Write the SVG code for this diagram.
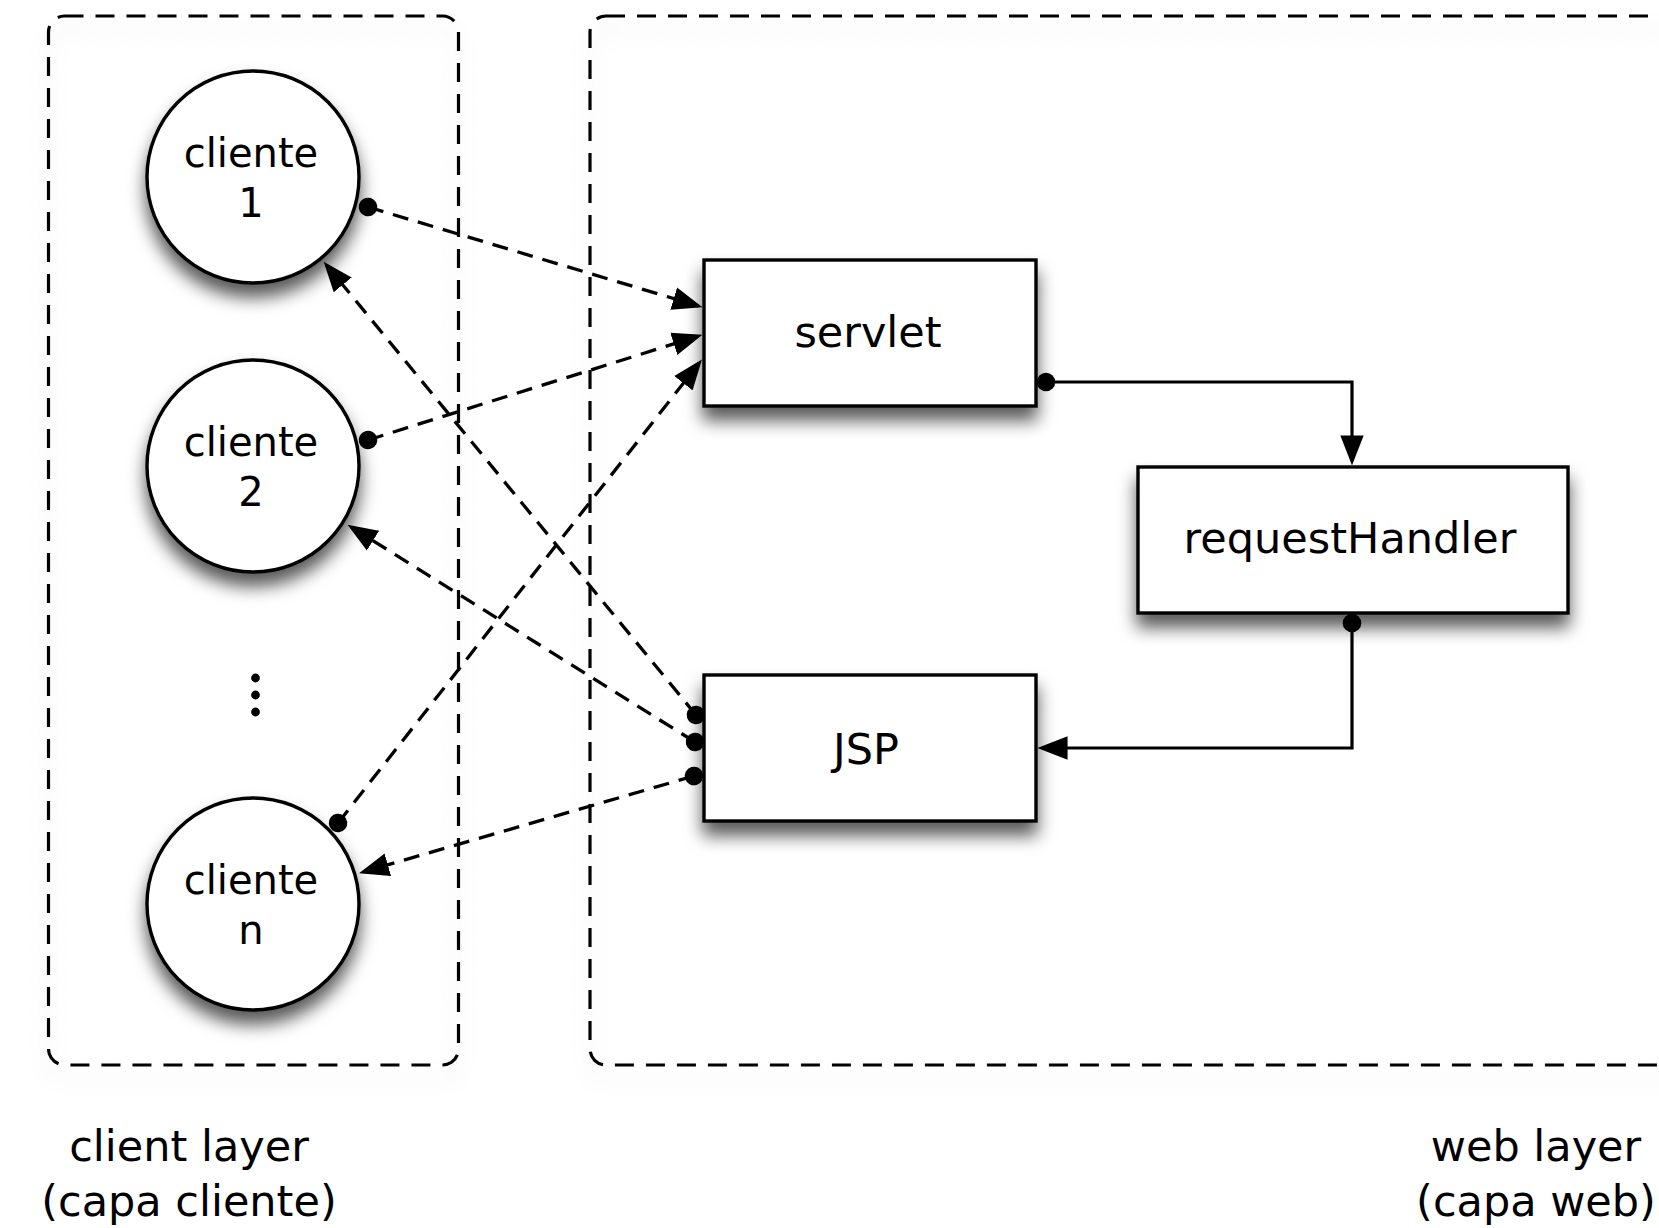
<svg xmlns="http://www.w3.org/2000/svg" width="1659" height="1228" viewBox="0 0 1659 1228">
  <style>
    .container { fill: none; stroke: #000; stroke-width: 3.2; stroke-dasharray: 19 12; }
    .node { fill: #fff; stroke: #000; stroke-width: 3.4; }
    .label { font-family: "DejaVu Sans", "Liberation Sans", sans-serif; fill: #000; text-anchor: middle; }
    .ctext { font-size: 40px; }
    .btext { font-size: 43px; }
    .dash { fill: none; stroke: #000; stroke-width: 3.3; stroke-dasharray: 16 10; }
    .solid { fill: none; stroke: #000; stroke-width: 3.2; }
  </style>
  <defs>
    <filter id="sh" x="-30%" y="-30%" width="160%" height="180%">
      <feDropShadow dx="0" dy="13" stdDeviation="8.5" flood-color="#000" flood-opacity="0.65"/>
    </filter>
    <filter id="shc" x="-10%" y="-10%" width="120%" height="120%">
      <feDropShadow dx="0" dy="14" stdDeviation="10" flood-color="#000" flood-opacity="0.12"/>
    </filter>
    <marker id="arrow" markerUnits="userSpaceOnUse" markerWidth="30" markerHeight="24" viewBox="0 0 27 21" refX="23" refY="10.5" orient="auto">
      <path d="M0,0 L27,10.5 L0,21 z" fill="#000"/>
    </marker>
    <marker id="dot" markerUnits="userSpaceOnUse" markerWidth="22" markerHeight="22" viewBox="0 0 22 22" refX="11" refY="11" orient="auto">
      <circle cx="11" cy="11" r="9.3" fill="#000"/>
    </marker>
  </defs>
  <rect width="1659" height="1228" fill="#fff"/>

  <g id="client-layer">
    <rect class="container" x="48.5" y="16" width="410" height="1049" rx="16" ry="16" filter="url(#shc)"/>
    <text class="label btext" x="189" y="1161">client layer</text>
    <text class="label btext" x="189" y="1216">(capa cliente)</text>
  </g>
  <g id="web-layer">
    <rect class="container" x="590" y="16" width="1140" height="1049" rx="16" ry="16" filter="url(#shc)"/>
    <text class="label btext" x="1536" y="1161">web layer</text>
    <text class="label btext" x="1536" y="1216">(capa web)</text>
  </g>

  <g id="cliente1">
    <circle class="node" cx="253" cy="177" r="106" filter="url(#sh)"/>
    <text class="label ctext" x="251" y="167">cliente</text>
    <text class="label ctext" x="251" y="217">1</text>
  </g>
  <g id="cliente2">
    <circle class="node" cx="253" cy="466" r="106" filter="url(#sh)"/>
    <text class="label ctext" x="251" y="456">cliente</text>
    <text class="label ctext" x="251" y="506">2</text>
  </g>
  <g id="ellipsis">
    <circle cx="255.5" cy="678" r="4.4" fill="#000"/>
    <circle cx="255.5" cy="695" r="4.4" fill="#000"/>
    <circle cx="255.5" cy="712" r="4.4" fill="#000"/>
  </g>
  <g id="clienten">
    <circle class="node" cx="253" cy="904" r="106" filter="url(#sh)"/>
    <text class="label ctext" x="251" y="894">cliente</text>
    <text class="label ctext" x="251" y="944">n</text>
  </g>

  <g id="servlet">
    <rect class="node" x="704" y="260" width="332" height="146" filter="url(#sh)"/>
    <text class="label btext" x="868" y="347">servlet</text>
  </g>
  <g id="requestHandler">
    <rect class="node" x="1138" y="467" width="430" height="146" filter="url(#sh)"/>
    <text class="label btext" x="1350" y="553">requestHandler</text>
  </g>
  <g id="jsp">
    <rect class="node" x="704" y="675" width="332" height="146" filter="url(#sh)"/>
    <text class="label btext" x="866" y="764">JSP</text>
  </g>

  <g id="connectors">
    <line class="dash" x1="368" y1="207" x2="698.2" y2="305.9" marker-start="url(#dot)" marker-end="url(#arrow)"/>
    <line class="dash" x1="368" y1="440" x2="698.2" y2="336.2" marker-start="url(#dot)" marker-end="url(#arrow)"/>
    <line class="dash" x1="338" y1="823" x2="699.2" y2="363.1" marker-start="url(#dot)" marker-end="url(#arrow)"/>
    <line class="dash" x1="696" y1="715" x2="326.5" y2="265.1" marker-start="url(#dot)" marker-end="url(#arrow)"/>
    <line class="dash" x1="695" y1="742" x2="351.3" y2="527.1" marker-start="url(#dot)" marker-end="url(#arrow)"/>
    <line class="dash" x1="694" y1="776" x2="363.3" y2="871.9" marker-start="url(#dot)" marker-end="url(#arrow)"/>
    <polyline class="solid" points="1046,382 1352,382 1352,461" marker-start="url(#dot)" marker-end="url(#arrow)"/>
    <polyline class="solid" points="1352,623 1352,748 1042,748" marker-start="url(#dot)" marker-end="url(#arrow)"/>
  </g>
</svg>
